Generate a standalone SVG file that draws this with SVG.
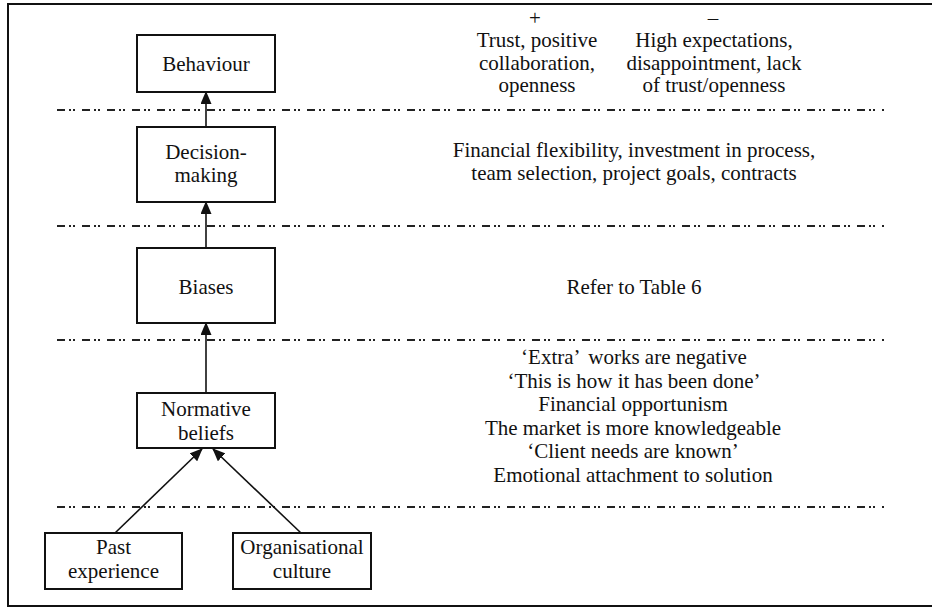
<svg xmlns="http://www.w3.org/2000/svg" width="932" height="608" viewBox="0 0 932 608">
<style>
text{font-family:"Liberation Serif","Times New Roman",serif;font-size:21px;fill:#111;text-anchor:middle}
.box{fill:#fff;stroke:#111;stroke-width:2}
.sep{stroke:#222;stroke-width:2;stroke-dasharray:8 4 2 2 2 7;fill:none}
.conn{stroke:#111;stroke-width:1.6;fill:none;marker-end:url(#ah)}
</style>
<defs>
<marker id="ah" markerUnits="userSpaceOnUse" markerWidth="13" markerHeight="11" refX="12" refY="5.5" orient="auto" viewBox="0 0 13 11">
<path d="M0,0 L13,5.5 L0,11 z" fill="#111"/>
</marker>
</defs>
<rect x="8" y="4" width="930" height="602" fill="#fff" stroke="#111" stroke-width="2"/>
<g id="separators">
<line class="sep" x1="57" y1="110" x2="884" y2="110"/>
<line class="sep" x1="57" y1="226" x2="884" y2="226"/>
<line class="sep" x1="57" y1="340" x2="884" y2="340"/>
<line class="sep" x1="57" y1="507" x2="884" y2="507"/>
</g>
<g id="connectors">
<line class="conn" x1="206" y1="127" x2="206" y2="92"/>
<line class="conn" x1="206" y1="248" x2="206" y2="202"/>
<line class="conn" x1="206" y1="393" x2="206" y2="323"/>
<line class="conn" x1="115" y1="533" x2="202" y2="449"/>
<line class="conn" x1="301" y1="533" x2="213" y2="449"/>
</g>
<g id="behaviour">
<rect class="box" x="137" y="35" width="138" height="57"/>
<text x="206" y="71">Behaviour</text>
</g>
<g id="decision-making">
<rect class="box" x="137" y="127" width="138" height="75"/>
<text x="206" y="159">Decision-</text>
<text x="206" y="182">making</text>
</g>
<g id="biases">
<rect class="box" x="137" y="248" width="138" height="75"/>
<text x="206" y="294">Biases</text>
</g>
<g id="normative-beliefs">
<rect class="box" x="137" y="393" width="138" height="55"/>
<text x="206" y="416">Normative</text>
<text x="206" y="440">beliefs</text>
</g>
<g id="past-experience">
<rect class="box" x="45" y="533" width="137" height="56"/>
<text x="113.5" y="554">Past</text>
<text x="113.5" y="578">experience</text>
</g>
<g id="organisational-culture">
<rect class="box" x="233" y="533" width="138" height="56"/>
<text x="302" y="554">Organisational</text>
<text x="302" y="578">culture</text>
</g>
<g id="behaviour-notes">
<text x="535" y="25">+</text>
<text x="713" y="25">–</text>
<text x="537" y="47">Trust, positive</text>
<text x="537" y="69.5">collaboration,</text>
<text x="537" y="92">openness</text>
<text x="714" y="47">High expectations,</text>
<text x="714" y="69.5">disappointment, lack</text>
<text x="714" y="92">of trust/openness</text>
</g>
<g id="decision-notes">
<text x="634" y="157">Financial flexibility, investment in process,</text>
<text x="634" y="180">team selection, project goals, contracts</text>
</g>
<g id="bias-notes">
<text x="634" y="294">Refer to Table 6</text>
</g>
<g id="belief-notes">
<text x="634" y="364">‘Extra’<tspan dx="4"> works are negative</tspan></text>
<text x="634" y="387.5">‘This is how it has been done’</text>
<text x="633" y="411">Financial opportunism</text>
<text x="633" y="434.5">The market is more knowledgeable</text>
<text x="633" y="458">‘Client needs are known’</text>
<text x="633" y="481.5">Emotional attachment to solution</text>
</g>
</svg>
